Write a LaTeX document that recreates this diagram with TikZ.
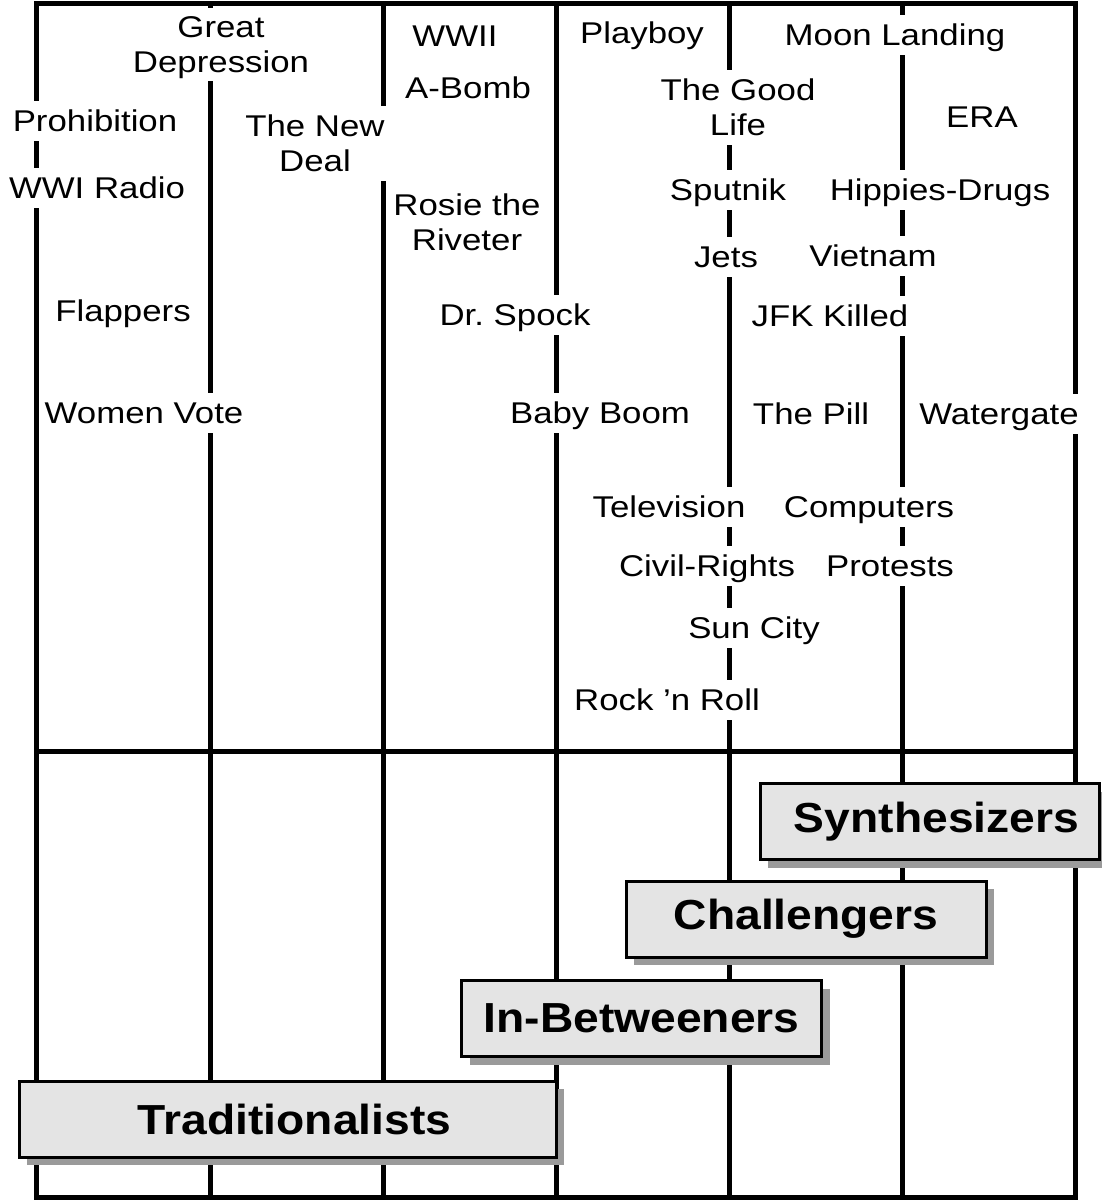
\documentclass[tikz,border=0pt]{standalone}
\usepackage{fontspec}
\setmainfont{Liberation Sans}
\newfontfamily\evtfont[FakeStretch=1.16]{Liberation Sans}
\newfontfamily\genfont[FakeStretch=1.10]{Liberation Sans}
\usetikzlibrary{shadows}
\definecolor{boxgray}{HTML}{E4E4E4}
\definecolor{shadowgray}{HTML}{9A9A9A}
% strut giving every event line the same ascent and descent
\newcommand{\sr}{\rule[-6.5pt]{0pt}{33.5pt}}
\begin{document}
\begin{tikzpicture}[x=1pt,y=-1pt,
  grid/.style={line width=5pt},
  evt/.style={fill=white, inner sep=3.5pt, align=center,
    font=\evtfont\fontsize{30}{35}\selectfont},
  gen/.style={draw, line width=3pt, fill=boxgray, inner sep=0pt,
    minimum width=360pt, minimum height=76pt,
    font=\genfont\bfseries\fontsize{42}{48}\selectfont,
    drop shadow={shadow xshift=8pt, shadow yshift=-8pt,
      fill=shadowgray, opacity=1}}]
\useasboundingbox (0,0) rectangle (1102,1201);

% decade grid
\draw[grid] (36.5,3.5) rectangle (1075,1197.5);
\foreach \x in {210,383,556,729,902}
  \draw[grid] (\x,3.5) -- (\x,1197.5);
\draw[grid] (36.5,751) -- (1075,751);

% events
\node[evt, inner ysep=2pt] (greatdep) at (221,44.5) {Great\sr\\Depression\sr};
\node[evt] (prohib)    at (95,121)    {Prohibition\sr};
\node[evt] (wwiradio)  at (97,188)    {WWI Radio\sr};
\node[evt] (newdeal)   at (315,143.5) {The New\sr\\Deal\sr};
\node[evt] (flappers)  at (123,311)   {Flappers\sr};
\node[evt] (womenvote) at (144,413)   {Women Vote\sr};
\node[evt] (wwii)      at (455,36)    {WWII\sr};
\node[evt] (abomb)     at (468,88)    {A-Bomb\sr};
\node[evt] (rosie)     at (467,223)   {Rosie the\sr\\Riveter\sr};
\node[evt] (spock)     at (515,315)   {Dr.\ Spock\sr};
\node[evt] (babyboom)  at (600,413)   {Baby Boom\sr};
\node[evt] (playboy)   at (642,33)    {Playboy\sr};
\node[evt] (moon)      at (895,35)    {Moon Landing\sr};
\node[evt] (goodlife)  at (738,107.5) {The Good\sr\\Life\sr};
\node[evt] (era)       at (982,117)   {ERA\sr};
\node[evt] (sputnik)   at (728,190)   {Sputnik\sr};
\node[evt] (hippies)   at (940,190)   {Hippies-Drugs\sr};
\node[evt] (jets)      at (726,257)   {Jets\sr};
\node[evt] (vietnam)   at (873,256)   {Vietnam\sr};
\node[evt] (jfk)       at (830,316)   {JFK Killed\sr};
\node[evt] (pill)      at (811,414)   {The Pill\sr};
\node[evt] (watergate) at (999,414)   {Watergate\sr};
\node[evt] (tv)        at (669,507)   {Television\sr};
\node[evt] (computers) at (869,507)   {Computers\sr};
\node[evt] (civil)     at (707,566)   {Civil-Rights\sr};
\node[evt] (protests)  at (890,566)   {Protests\sr};
\node[evt] (suncity)   at (754,628)   {Sun City\sr};
\node[evt] (rock)      at (667,700)   {Rock ’n Roll\sr};

% generations
\node[gen, minimum width=339pt] (synth) at (929.5,821.5) {\hspace*{14pt}Synthesizers};
\node[gen] (chall) at (806,919)    {Challengers};
\node[gen] (inbetw) at (641.5,1018.5) {In-Betweeners};
\node[gen, minimum width=537pt] (trad) at (287.5,1119) {\hspace*{14pt}Traditionalists};
\end{tikzpicture}
\end{document}
